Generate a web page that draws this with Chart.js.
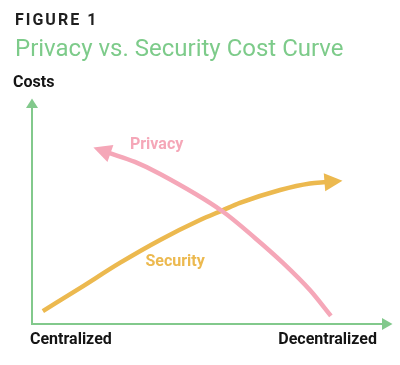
<!DOCTYPE html>
<html>
<head>
<meta charset="utf-8">
<script src="https://cdn.jsdelivr.net/npm/chart.js@4.4.1/dist/chart.umd.min.js"></script>
<style>
  html, body { margin: 0; padding: 0; background: #ffffff; }
  body { width: 400px; height: 365px; position: relative; overflow: hidden; font-family: Roboto, "Noto Sans", sans-serif; }
  #fig { position: absolute; left: 15px; top: 12px; font-size: 16px; line-height: 16px; font-weight: 700; letter-spacing: 2px; color: #1f1f1f; white-space: nowrap; z-index: 2; }
  #sub { position: absolute; left: 15px; top: 35.5px; font-size: 24px; line-height: 24px; font-weight: 400; color: #7dcb8a; white-space: nowrap; z-index: 2; }
  #c { position: absolute; left: 0; top: 0; }
</style>
</head>
<body>
<div id="fig">FIGURE 1</div>
<div id="sub">Privacy vs. Security Cost Curve</div>
<canvas id="c" width="400" height="365"></canvas>
<script>
// ---- data ----
const axisLabels = ['Centralized', 'Decentralized'];
const yAxisLabel = 'Costs';
const seriesNames = ['Privacy', 'Security'];
const privacyX = [85.4, 79.4, 71.7, 63.7, 54.3, 36.6, 29.4, 22.0];
const privacyY = [3.7, 15.5, 27.9, 39.3, 51.6, 68.5, 74.0, 78.1];
const securityX = [3.1, 13.7, 25.1, 36.6, 48.0, 54.3, 59.4, 70.9, 79.4, 84.0];
const securityY = [5.9, 16.4, 27.9, 38.4, 47.5, 51.8, 55.3, 61.2, 64.2, 64.8];

// ---- styles ----
const AXIS_COLOR = '#82c98c';
const PINK = '#f5a7b8';
const GOLD = '#ecb94f';
const TEXT_DARK = '#141414';
const labelAnchors = [{ x: 35.6, y: 79.9 }, { x: 40.9, y: 26.5 }];

const toPts = (xs, ys) => xs.map((x, i) => ({ x, y: ys[i] }));

function tri(ctx, bx, by, ux, uy, L, W) {
  bx -= ux * 1.5; by -= uy * 1.5;
  ctx.beginPath();
  ctx.moveTo(bx + ux * L, by + uy * L);
  ctx.lineTo(bx - uy * W, by + ux * W);
  ctx.lineTo(bx + uy * W, by - ux * W);
  ctx.closePath();
  ctx.fill();
}

const decorPlugin = {
  id: 'decor',
  afterDatasetsDraw(chart) {
    const ctx = chart.ctx;
    const { left, right, top, bottom } = chart.chartArea;
    ctx.save();
    // axis arrowheads
    ctx.fillStyle = AXIS_COLOR;
    tri(ctx, left, top + 1.5, 0, -1, 9.5, 6);
    tri(ctx, right + 1.5, bottom, 1, 0, 10.5, 6);
    // series arrowheads
    chart.data.datasets.forEach((ds, i) => {
      const pts = chart.getDatasetMeta(i).data;
      const b = pts[pts.length - 1];
      const a = pts[pts.length - 2];
      let ax = (b.cp1x !== undefined) ? b.cp1x : a.x;
      let ay = (b.cp1y !== undefined) ? b.cp1y : a.y;
      if (Math.hypot(b.x - ax, b.y - ay) < 0.5) { ax = a.x; ay = a.y; }
      const dx = b.x - ax, dy = b.y - ay, len = Math.hypot(dx, dy);
      ctx.fillStyle = ds.borderColor;
      tri(ctx, b.x, b.y, dx / len, dy / len, 18, 9);
    });
    // texts
    ctx.textBaseline = 'alphabetic';
    ctx.font = '700 16px Roboto';
    ctx.fillStyle = TEXT_DARK;
    ctx.textAlign = 'left';
    ctx.fillText(yAxisLabel, left - 19, top - 18);
    ctx.fillText(axisLabels[0], left - 2, bottom + 20);
    ctx.textAlign = 'right';
    ctx.fillText(axisLabels[1], right - 5, bottom + 20);
    ctx.textAlign = 'center';
    chart.data.datasets.forEach((ds, i) => {
      ctx.fillStyle = ds.borderColor;
      ctx.fillText(ds.label, chart.scales.x.getPixelForValue(labelAnchors[i].x), chart.scales.y.getPixelForValue(labelAnchors[i].y));
    });
    ctx.restore();
  }
};

new Chart(document.getElementById('c'), {
  type: 'scatter',
  data: {
    datasets: [
      { label: seriesNames[0], data: toPts(privacyX, privacyY), showLine: true, borderColor: PINK, borderWidth: 4.5, pointRadius: 0, cubicInterpolationMode: 'monotone', fill: false },
      { label: seriesNames[1], data: toPts(securityX, securityY), showLine: true, borderColor: GOLD, borderWidth: 4.5, pointRadius: 0, cubicInterpolationMode: 'monotone', fill: false }
    ]
  },
  options: {
    responsive: false,
    animation: false,
    events: [],
    layout: { padding: { left: 32, right: 18, top: 105, bottom: 41 } },
    plugins: { legend: { display: false }, tooltip: { enabled: false }, title: { display: false } },
    scales: {
      x: { type: 'linear', min: 0, max: 100, grid: { display: false, drawTicks: false }, ticks: { display: false }, border: { display: true, color: AXIS_COLOR, width: 2 } },
      y: { type: 'linear', min: 0, max: 100, grid: { display: false, drawTicks: false }, ticks: { display: false }, border: { display: true, color: AXIS_COLOR, width: 2 } }
    }
  },
  plugins: [decorPlugin]
});
</script>
</body>
</html>
